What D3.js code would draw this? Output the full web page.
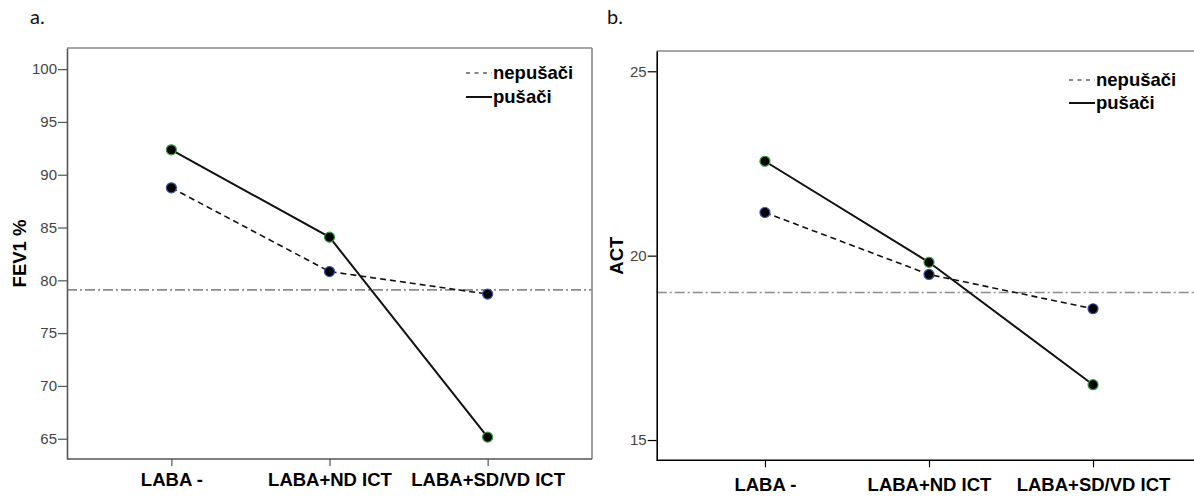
<!DOCTYPE html>
<html>
<head>
<meta charset="utf-8">
<script src="https://cdn.jsdelivr.net/npm/d3@7"></script>
<style>
  html, body { margin: 0; padding: 0; background: #fff; }
  svg { display: block; }
</style>
</head>
<body>
<svg id="chart" width="1194" height="497"></svg>
<script>
// Treatment groups on the x axis
const categories = ["LABA -", "LABA+ND ICT", "LABA+SD/VD ICT"];
const seriesNames = ["nepušači", "pušači"];

// Panel a: FEV1 %
const fevNonSmokers = [88.76, 80.83, 78.7];
const fevSmokers = [92.36, 84.09, 65.15];
const fevTicks = [65, 70, 75, 80, 85, 90, 95, 100];
const fevReference = 79.1;

// Panel b: ACT score
const actNonSmokers = [21.17, 19.49, 18.56];
const actSmokers = [22.56, 19.82, 16.5];
const actTicks = [15, 20, 25];
const actReference = 19.0;

const svg = d3.select("#chart");
const FONT = "'Liberation Sans', Arial, sans-serif";

function drawPanel(opt) {
  const g = svg.append("g");
  const x = d3.scalePoint().domain(categories).range([opt.left, opt.right]).padding(0.66);
  const y = d3.scaleLinear().domain(opt.domain).range([opt.bottom, opt.top]);

  // panel letter
  g.append("text")
    .attr("x", opt.letterX).attr("y", 24)
    .attr("font-family", "Lato, 'Open Sans', sans-serif")
    .attr("font-size", 20).attr("fill", "#111")
    .text(opt.letter);

  // frame top / right
  g.append("line")
    .attr("x1", opt.left).attr("x2", Math.min(opt.right, 1194))
    .attr("y1", opt.top).attr("y2", opt.top)
    .attr("stroke", "#8a8a8a").attr("stroke-width", 1.6);
  if (opt.right < 1194) {
    g.append("line")
      .attr("x1", opt.right).attr("x2", opt.right)
      .attr("y1", opt.top).attr("y2", opt.bottom)
      .attr("stroke", "#8a8a8a").attr("stroke-width", 1.6);
  }

  // reference line
  g.append("line")
    .attr("x1", opt.left).attr("x2", Math.min(opt.right, 1194))
    .attr("y1", y(opt.reference)).attr("y2", y(opt.reference))
    .attr("stroke", "#8c8c8c").attr("stroke-width", 1.6)
    .attr("stroke-dasharray", "10,3,2,3");

  // y axis
  const yAxis = g.append("g")
    .attr("transform", `translate(${opt.left},0)`)
    .call(d3.axisLeft(y).tickValues(opt.ticks).tickSize(9).tickSizeOuter(0).tickPadding(1));
  yAxis.select(".domain").attr("stroke", opt.axisColor).attr("stroke-width", 1.6);
  yAxis.selectAll(".tick line").attr("stroke", opt.axisColor).attr("stroke-width", 1.2);
  yAxis.selectAll(".tick text")
    .attr("font-family", FONT).attr("font-size", 15).attr("fill", "#444");

  // x axis
  const xAxis = g.append("g")
    .attr("transform", `translate(0,${opt.bottom})`)
    .call(d3.axisBottom(x).tickSize(7).tickSizeOuter(0).tickPadding(opt.xPad));
  xAxis.select(".domain").attr("stroke", opt.axisColor).attr("stroke-width", 1.6)
    .attr("d", `M${opt.left},0H${Math.min(opt.right, 1194)}`);
  xAxis.selectAll(".tick line").attr("stroke", opt.axisColor).attr("stroke-width", 1.2);
  xAxis.selectAll(".tick text")
    .attr("font-family", FONT).attr("font-size", 18.5).attr("font-weight", "bold").attr("fill", "#000");

  // y axis title
  g.append("text")
    .attr("transform", `translate(${opt.titleX},${(opt.top + opt.bottom) / 2}) rotate(-90)`)
    .attr("text-anchor", "middle")
    .attr("font-family", FONT).attr("font-size", 18.5).attr("font-weight", "bold")
    .text(opt.title);

  // series lines
  const line = d3.line().x((d, i) => x(categories[i])).y(d => y(d));
  g.append("path").datum(opt.nonSmokers)
    .attr("d", line).attr("fill", "none")
    .attr("stroke", "#111").attr("stroke-width", 1.6).attr("stroke-dasharray", "6,4");
  g.append("path").datum(opt.smokers)
    .attr("d", line).attr("fill", "none")
    .attr("stroke", "#111").attr("stroke-width", 2);

  // markers
  g.selectAll(".ns").data(opt.nonSmokers).join("circle")
    .attr("cx", (d, i) => x(categories[i])).attr("cy", d => y(d)).attr("r", 5)
    .attr("fill", "#000").attr("stroke", "#3553a8").attr("stroke-width", 1.2);
  g.selectAll(".sm").data(opt.smokers).join("circle")
    .attr("cx", (d, i) => x(categories[i])).attr("cy", d => y(d)).attr("r", 5)
    .attr("fill", "#000").attr("stroke", "#2f9e3c").attr("stroke-width", 1.2);

  // legend
  const lg = g.append("g").attr("transform", `translate(${opt.legendX},${opt.legendY})`);
  seriesNames.forEach((name, i) => {
    const yy = i * opt.legendGap;
    lg.append("line")
      .attr("x1", 0).attr("x2", 26).attr("y1", yy - 6).attr("y2", yy - 6)
      .attr("stroke", "#111").attr("stroke-width", i === 0 ? 1.2 : 2)
      .attr("stroke-dasharray", i === 0 ? "4,4.5" : null);
    lg.append("text")
      .attr("x", 27).attr("y", yy)
      .attr("font-family", FONT).attr("font-size", 18.5).attr("font-weight", "bold")
      .text(name);
  });
}

drawPanel({
  letter: "a.", letterX: 30,
  left: 67, right: 592, top: 48, bottom: 459,
  domain: [63.08, 102.0],
  ticks: fevTicks, reference: fevReference,
  nonSmokers: fevNonSmokers, smokers: fevSmokers,
  title: "FEV1 %", titleX: 26,
  axisColor: "#555", xPad: 7,
  legendX: 466, legendY: 79, legendGap: 24
});

drawPanel({
  letter: "b.", letterX: 607,
  left: 656.7, right: 1201.3, top: 51, bottom: 460.3,
  domain: [14.45, 25.55],
  ticks: actTicks, reference: actReference,
  nonSmokers: actNonSmokers, smokers: actSmokers,
  title: "ACT", titleX: 622.5,
  axisColor: "#000", xPad: 11,
  legendX: 1069, legendY: 86, legendGap: 23
});
</script>
</body>
</html>
